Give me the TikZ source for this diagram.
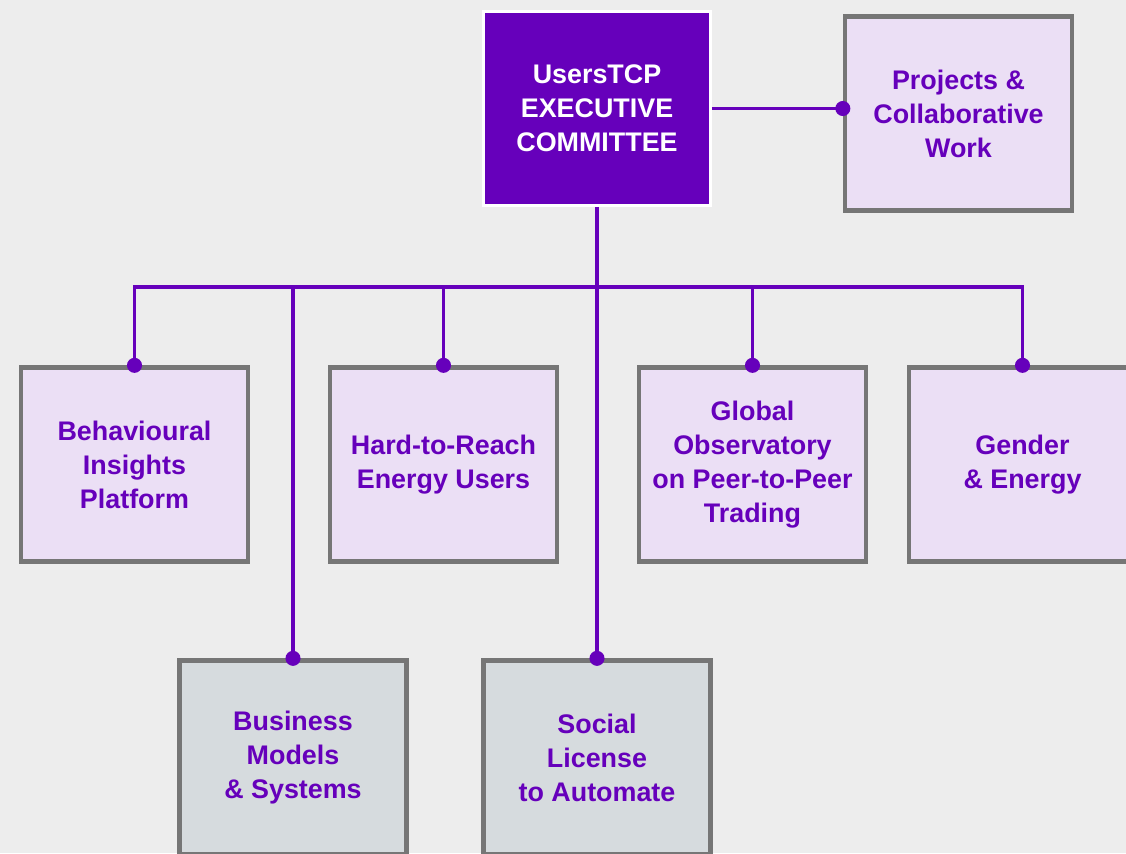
\documentclass[tikz,border=0pt]{standalone}
\usepackage{fontspec}
\setmainfont{Liberation Sans}
\usetikzlibrary{arrows.meta,positioning,calc}
\definecolor{bgcol}{HTML}{EDEDED}
\definecolor{execpurple}{HTML}{6600BB}
\definecolor{lightpurple}{HTML}{EBDFF5}
\definecolor{lightgray}{HTML}{D6DBDE}
\definecolor{boxborder}{HTML}{767676}

\begin{document}
\begin{tikzpicture}[x=0.02cm, y=-0.02cm,
    box/.style={draw=boxborder, line width=2.5pt, minimum width=4.54cm, minimum height=3.88cm,
      align=center, text=execpurple, font=\fontsize{15.3}{19.3}\selectfont\bfseries},
    groupbox/.style={box, fill=lightpurple},
    taskbox/.style={box, fill=lightgray},
    link/.style={draw=execpurple, line width=2pt},
    dot/.style={link, {Circle[length=0.3cm]}-{Circle[length=0.3cm]}, shorten <=-0.15cm, shorten >=-0.15cm},
    enddot/.style={link, -{Circle[length=0.3cm]}, shorten >=-0.15cm}]
  \useasboundingbox (0,0) rectangle (1126,853);
  \fill[bgcol] (0,0) rectangle (1126,853);
  \clip (0,0) rectangle (1126,853);

  \node[box, fill=execpurple, draw=white, line width=1.7pt, text=white] (exec) at (597,108.5) {UsersTCP\\EXECUTIVE\\COMMITTEE};
  \node[groupbox] (projects) at (958.5,113.5) {Projects \&\\Collaborative\\Work};

  \node[groupbox] (behav) at (134.5,464.5) {Behavioural\\Insights\\Platform};
  \node[groupbox] (hard) at (443.5,464.5) {Hard-to-Reach\\Energy Users};
  \node[groupbox] (global) at (752.5,464.5) {Global\\Observatory\\on Peer-to-Peer\\Trading};
  \node[groupbox] (gender) at (1022.5,464.5) {Gender\\\& Energy};

  \node[taskbox] (business) at (293,757.5) {Business\\Models\\\& Systems};
  \node[taskbox] (social) at (597,757.5) {Social\\License\\to Automate};

  \coordinate (bus) at (597,287);
  \draw[enddot] (exec.east) -- (exec.east -| projects.west);
  \draw[enddot] (exec.south) -- (social.north);
  \draw[dot] (behav.north) |- (bus) -| (gender.north);
  \foreach \sub in {hard,global,business}
    \draw[enddot] (\sub.north |- bus) -- (\sub.north);
\end{tikzpicture}
\end{document}
